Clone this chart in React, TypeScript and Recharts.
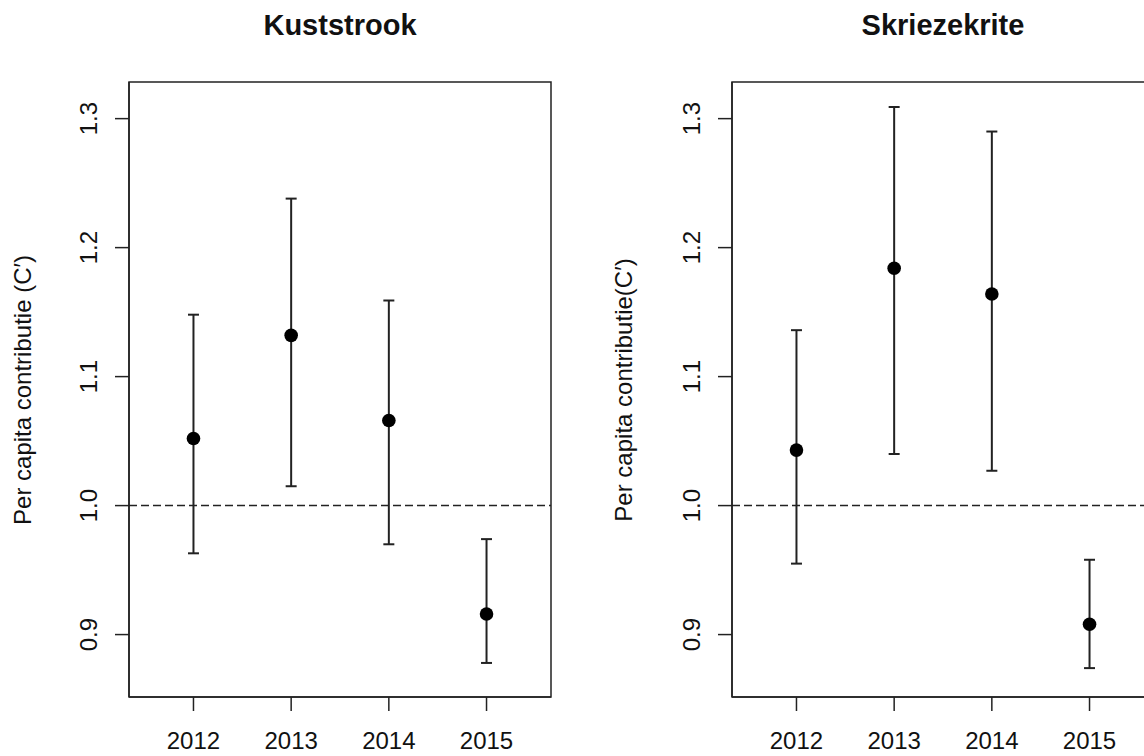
import React from "react";
import {
  ComposedChart,
  Scatter,
  ErrorBar,
  XAxis,
  YAxis,
  ReferenceLine,
  ReferenceArea,
} from "recharts";

const years = [2012, 2013, 2014, 2015];
const yTicks = [0.9, 1.0, 1.1, 1.2, 1.3];

const kustMean = [1.052, 1.132, 1.066, 0.916];
const kustLow = [0.963, 1.015, 0.97, 0.878];
const kustHigh = [1.148, 1.238, 1.159, 0.974];

const skrMean = [1.043, 1.184, 1.164, 0.908];
const skrLow = [0.955, 1.04, 1.027, 0.874];
const skrHigh = [1.136, 1.309, 1.29, 0.958];

const X_DOMAIN: [number, number] = [2011.34, 2015.66];
const Y_DOMAIN: [number, number] = [0.8516, 1.3284];

const INK = "#222";
const FONT = "'Liberation Sans', Arial, sans-serif";

const buildRows = (mean: number[], low: number[], high: number[]) =>
  years.map((year, i) => ({
    year,
    mean: mean[i],
    err: [mean[i] - low[i], high[i] - mean[i]],
  }));

const YTick = (props: any) => {
  const { x, y, payload } = props;
  return (
    <text
      x={x}
      y={y}
      transform={`rotate(-90, ${x}, ${y})`}
      textAnchor="middle"
      fontSize={24}
      fontFamily={FONT}
      fill="#111"
    >
      {Number(payload.value).toFixed(1)}
    </text>
  );
};

const XTick = (props: any) => {
  const { x, y, payload } = props;
  return (
    <text x={x} y={y} textAnchor="middle" fontSize={24} fontFamily={FONT} fill="#111">
      {payload.value}
    </text>
  );
};

const Dot = (props: any) => <circle cx={props.cx} cy={props.cy} r={6.8} fill="#000" />;

const Panel = ({ rows, left }: { rows: any[]; left: number }) => (
  <div style={{ position: "absolute", left, top: 0 }}>
    <ComposedChart
      width={580}
      height={756}
      data={rows}
      margin={{ top: 82, right: 29, bottom: 9, left: 69 }}
    >
      <XAxis
        dataKey="year"
        type="number"
        domain={X_DOMAIN}
        ticks={years}
        allowDataOverflow
        height={50}
        tickSize={14}
        tickMargin={38}
        tick={<XTick />}
        axisLine={{ stroke: INK, strokeWidth: 1.5 }}
        tickLine={{ stroke: INK, strokeWidth: 1.5 }}
      />
      <YAxis
        type="number"
        domain={Y_DOMAIN}
        ticks={yTicks}
        allowDataOverflow
        width={60}
        tickSize={14}
        tickMargin={18}
        tick={<YTick />}
        axisLine={{ stroke: INK, strokeWidth: 1.5 }}
        tickLine={{ stroke: INK, strokeWidth: 1.5 }}
      />
      {/* the R box() round the plot region */}
      <ReferenceArea
        x1={X_DOMAIN[0]}
        x2={X_DOMAIN[1]}
        y1={Y_DOMAIN[0]}
        y2={Y_DOMAIN[1]}
        fill="none"
        fillOpacity={0}
        stroke={INK}
        strokeWidth={1.5}
        ifOverflow="visible"
      />
      <ReferenceLine y={1} stroke={INK} strokeWidth={1.5} strokeDasharray="8 4" />
      <Scatter dataKey="mean" shape={<Dot />} isAnimationActive={false}>
        <ErrorBar
          dataKey="err"
          direction="y"
          width={5.5}
          stroke={INK}
          strokeWidth={2}
          isAnimationActive={false}
        />
      </Scatter>
    </ComposedChart>
  </div>
);

const App = () => {
  const kust = buildRows(kustMean, kustLow, kustHigh);
  const skr = buildRows(skrMean, skrLow, skrHigh);
  return (
    <div
      style={{
        position: "absolute",
        left: 0,
        top: 0,
        width: 1144,
        height: 756,
        overflow: "hidden",
        background: "#fff",
        fontFamily: FONT,
      }}
    >
      <Panel rows={kust} left={0} />
      <Panel rows={skr} left={603} />
      <svg
        width={1144}
        height={756}
        style={{ position: "absolute", left: 0, top: 0, pointerEvents: "none" }}
      >
        <text x={340} y={34.5} textAnchor="middle" fontSize={29} fontWeight="bold" fontFamily={FONT} fill="#111">
          Kuststrook
        </text>
        <text x={943} y={34.5} textAnchor="middle" fontSize={29} fontWeight="bold" fontFamily={FONT} fill="#111">
          Skriezekrite
        </text>
        <text
          x={31}
          y={390}
          transform="rotate(-90, 31, 390)"
          textAnchor="middle"
          fontSize={24}
          fontFamily={FONT}
          fill="#111"
        >
          Per capita contributie (C′)
        </text>
        <text
          x={632}
          y={390}
          transform="rotate(-90, 632, 390)"
          textAnchor="middle"
          fontSize={24}
          fontFamily={FONT}
          fill="#111"
        >
          Per capita contributie(C′)
        </text>
      </svg>
    </div>
  );
};

export default App;
